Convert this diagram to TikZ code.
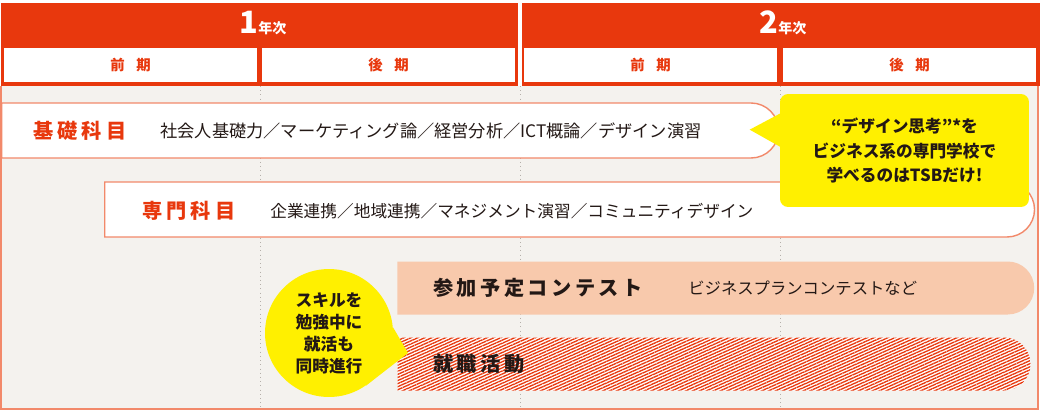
\documentclass[tikz,border=0pt]{standalone}
\usepackage{fontspec}
\setmainfont{Noto Sans CJK JP}
\usetikzlibrary{shapes.misc,patterns.meta}
\definecolor{hdred}{HTML}{E8380D}
\definecolor{framepink}{HTML}{F2896A}
\definecolor{bodygray}{HTML}{F4F2EE}
\definecolor{gridgray}{HTML}{B5B0AA}
\definecolor{contestpeach}{HTML}{F8C9AC}
\definecolor{tsbyellow}{HTML}{FFF000}
\definecolor{inkdark}{HTML}{231815}
\tikzset{
  termbox/.style={fill=white, minimum width=5.06cm, minimum height=0.68cm, inner sep=0pt,
    text=hdred, font=\bfseries\fontsize{8.2}{8}\selectfont},
  yearlabel/.style={anchor=base, inner sep=0pt, text=white, font=\bfseries},
  subjectbar/.style={rounded rectangle, rounded rectangle west arc=none, draw=framepink,
    line width=0.8pt, fill=white, inner sep=0pt, minimum height=1.1cm, anchor=west},
  planbar/.style={rounded rectangle, rounded rectangle west arc=none, inner sep=0pt,
    minimum height=1.06cm, anchor=west},
  subjectlabel/.style={anchor=west, inner sep=0pt, text=hdred,
    font=\bfseries\fontsize{11.5}{12}\selectfont\addfontfeature{LetterSpace=20}},
  planlabel/.style={anchor=west, inner sep=0pt, text=inkdark,
    font=\bfseries\fontsize{11.5}{12}\selectfont\addfontfeature{LetterSpace=17}},
  coursetext/.style={anchor=west, inner sep=0pt, text=inkdark,
    font=\fontsize{9.8}{12}\selectfont},
  notebox/.style={fill=tsbyellow, rounded corners=0.16cm, minimum width=4.98cm,
    minimum height=2.26cm, align=center, text=inkdark,
    font=\bfseries\fontsize{9.5}{14.2}\selectfont},
  notebubble/.style={circle, fill=tsbyellow, minimum size=2.56cm, inner sep=0pt,
    align=center, text=inkdark, font=\bfseries\fontsize{9.5}{12.5}\selectfont}
}
\begin{document}
\begin{tikzpicture}[x=0.02cm,y=-0.02cm]
    \useasboundingbox (0,0) rectangle (1041,413);
    % Year header
    \fill[hdred] (1,3) rectangle (518,86);
    \fill[hdred] (522,3) rectangle (1040,86);
    \foreach \x/\n in {263/1,783/2} {
        \node[yearlabel] (year\n) at (\x,33)
            {\fontsize{17.5}{17}\selectfont\n\fontsize{8}{8}\selectfont 年次};
    }
    \foreach \x/\t [count=\i] in {130.5/前,388.5/後,650.5/前,909.5/後} {
        \node[termbox] (term\i) at (\x,65) {\t\hspace{0.8em}期};
    }

    % Body
    \fill[bodygray] (1,86) rectangle (1038,409);
    \draw[framepink, line width=1.2pt] (1,86) -- (1,409) -- (1038,409) -- (1038,86);
    \foreach \x in {260,520,780} {
        \draw[gridgray, dotted, line width=0.4pt] (\x,86) -- (\x,409);
    }

    % Subject bars
    \node[subjectbar, minimum width=15.54cm] (basicbar) at (1,130.5) {};
    \node[subjectbar, minimum width=18.6cm] (majorbar) at (104,209.5) {};
    \node[subjectlabel] (basiclabel) at (33,131) {基礎科目};
    \node[coursetext] (basiclist) at (160,131)
        {社会人基礎力／マーケティング論／経営分析／ICT概論／デザイン演習};
    \node[subjectlabel] (majorlabel) at (142,211) {専門科目};
    \node[coursetext, font=\fontsize{9.5}{12}\selectfont] (majorlist) at (270,211)
        {企業連携／地域連携／マネジメント演習／コミュニティデザイン};

    % Callout
    \node[notebox] (tsbnote) at (904.5,150.5)
        {“デザイン思考”*を\\ビジネス系の専門学校で\\学べるのはTSBだけ!};
    \fill[tsbyellow] ([xshift=0.04cm,yshift=-0.38cm]tsbnote.north west)
        -- ([xshift=-0.6cm,yshift=-0.72cm]tsbnote.north west)
        -- ([xshift=0.04cm,yshift=-1.08cm]tsbnote.north west) -- cycle;

    % Contest and job hunting
    \node[planbar, fill=contestpeach, minimum width=12.74cm] (contestbar) at (397,288) {};
    \node[planbar, minimum width=12.66cm, preaction={fill=white},
        pattern={Lines[angle=24,distance=1.6pt,line width=0.75pt]}, pattern color=hdred]
        (jobbar) at (397,364) {};
    \node[planlabel] (contestlabel) at (433,288) {参加予定コンテスト};
    \node[coursetext, font=\fontsize{9.3}{12}\selectfont] (contestlist) at (688,288)
        {ビジネスプランコンテストなど};
    \node[planlabel] (joblabel) at (433,364) {就職活動};

    % Bubble
    \node[notebubble] (jobnote) at (329,333) {スキルを\\勉強中に\\就活も\\同時進行};
    \fill[tsbyellow] (jobnote.5) -- (408,353) -- (jobnote.-55) -- cycle;
\end{tikzpicture}
\end{document}
